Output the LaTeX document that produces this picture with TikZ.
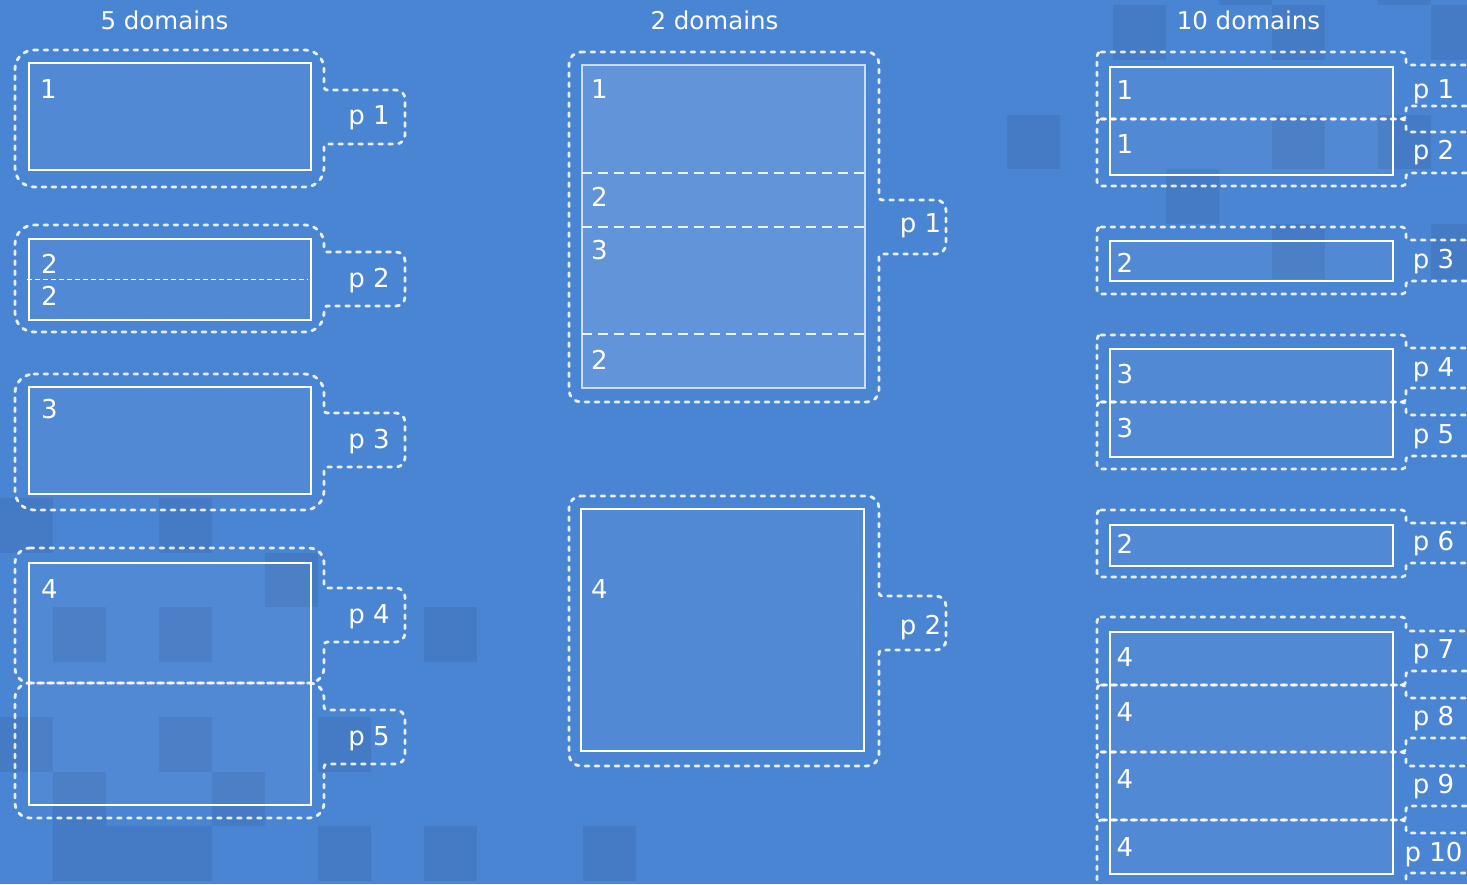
\documentclass[tikz,border=0pt]{standalone}
\usepackage{fontspec}
\setmainfont{DejaVu Sans}
\definecolor{bg}{RGB}{74,133,212}
\newcommand\fs{\fontsize{26}{30}\selectfont}
\newcommand\fst{\fontsize{24.5}{30}\selectfont}
\def\rj{3}
\def\kk{0.448}
% group outline: x1,y1,x2,y2,tabx,taby1,taby2,R,rt
\newcommand\grp[9]{%
 \draw[outl] (#1+#8,#2) -- (#3-#8,#2) .. controls (#3-\kk*#8,#2) and (#3,#2+\kk*#8) .. (#3,#2+#8)
  -- (#3,#6-\rj) .. controls (#3,#6-\kk*\rj) and (#3+\kk*\rj,#6) .. (#3+\rj,#6)
  -- (#5-#9,#6) .. controls (#5-\kk*#9,#6) and (#5,#6+\kk*#9) .. (#5,#6+#9)
  -- (#5,#7-#9) .. controls (#5,#7-\kk*#9) and (#5-\kk*#9,#7) .. (#5-#9,#7)
  -- (#3+\rj,#7) .. controls (#3+\kk*\rj,#7) and (#3,#7+\kk*\rj) .. (#3,#7+\rj)
  -- (#3,#4-#8) .. controls (#3,#4-\kk*#8) and (#3-\kk*#8,#4) .. (#3-#8,#4)
  -- (#1+#8,#4) .. controls (#1+\kk*#8,#4) and (#1,#4-\kk*#8) .. (#1,#4-#8)
  -- (#1,#2+#8) .. controls (#1,#2+\kk*#8) and (#1+\kk*#8,#2) .. (#1+#8,#2) -- cycle;}
\newcommand\inrect[4]{%
 \fill[white,fill opacity=0.04] (#1,#2) rectangle (#3,#4);
 \draw[inbox] (#1,#2) rectangle (#3,#4);}
\tikzset{
 outl/.style={draw=white, draw opacity=0.88, line width=2.8pt, dash pattern=on 3.8pt off 6.2pt, line cap=round},
 inbox/.style={draw=white, line width=2pt},
 lbl/.style={text=white, inner sep=0pt, anchor=base west, font=\fs},
 plbl/.style={text=white, inner sep=0pt, anchor=base, font=\fs},
 ttl/.style={text=white, inner sep=0pt, anchor=base, font=\fst},
 sq/.style={fill=black, fill opacity=0.075},
 thindash/.style={draw=white, line width=0.9pt, dash pattern=on 5pt off 3pt},
 divdash/.style={draw=white, draw opacity=0.9, line width=2pt, dash pattern=on 10pt off 6pt},
}
\begin{document}
\begin{tikzpicture}[x=1pt,y=-1pt]
\fill[bg] (0,0) rectangle (1467,884);
\clip (0,0) rectangle (1467,884);
% background squares
\foreach \i/\j in {19/2,21/0,24/0,27/0,23/-1,26/-1,22/3,24/2,26/2,24/4,27/4,
  0/9,3/9,5/10,1/11,3/11,8/11,0/13,3/13,6/13,1/14,4/14,1/15,2/15,3/15,6/15,8/15,11/15}
  \fill[sq] (53*\i,5+54.75*\j) rectangle ++(53,54.75);

% ---------- 5 domains ----------
\node[ttl] (t1) at (164.5,29) {5 domains};
\inrect{29}{63}{311}{170}
\inrect{29}{239}{311}{320}
\draw[thindash] (27,279) -- (308,279);
\inrect{29}{387}{311}{494}
\inrect{29}{563}{311}{805}
\grp{15}{50}{324}{187}{405}{90}{144}{19}{9}
\grp{15}{225}{324}{332}{405}{252}{306}{19}{9}
\grp{15}{374}{324}{510}{405}{413}{467}{19}{9}
\grp{15}{548}{324}{683}{405}{588}{642}{15}{9}
\grp{15}{683}{324}{818}{405}{710}{764}{15}{9}
\node[lbl] (a1) at (40,98) {1};
\node[lbl] (a2) at (41,273) {2};
\node[lbl] (a3) at (41,305) {2};
\node[lbl] (a4) at (41,418) {3};
\node[lbl] (a5) at (41,598) {4};
\node[plbl] (ap1) at (369,124) {p 1};
\node[plbl] (ap2) at (369,287) {p 2};
\node[plbl] (ap3) at (369,448) {p 3};
\node[plbl] (ap4) at (369,623) {p 4};
\node[plbl] (ap5) at (369,745) {p 5};

% ---------- 2 domains ----------
\node[ttl] (t2) at (714.5,29) {2 domains};
\fill[white,fill opacity=0.13] (582,65) rectangle (865,388);
\draw[draw=white, draw opacity=0.7, line width=2pt] (582,65) rectangle (865,388);
\draw[divdash] (582,173) -- (865,173);
\draw[divdash] (582,227) -- (865,227);
\draw[divdash] (582,334) -- (865,334);
\inrect{581}{509}{864}{751}
\grp{569}{52}{879}{402}{946}{200}{254}{12}{10}
\grp{569}{496}{879}{766}{946}{596}{650}{12}{10}
\node[lbl] (b1) at (591,98) {1};
\node[lbl] (b2) at (591,206) {2};
\node[lbl] (b3) at (591,259) {3};
\node[lbl] (b4) at (591,369) {2};
\node[lbl] (b5) at (591,598) {4};
\node[plbl] (bp1) at (920.5,232) {p 1};
\node[plbl] (bp2) at (920.5,634) {p 2};

% ---------- 10 domains ----------
\node[ttl] (t3) at (1248.5,29) {10 domains};
\inrect{1110}{67}{1393}{175}
\inrect{1110}{241}{1393}{281}
\inrect{1110}{349}{1393}{457}
\inrect{1110}{525}{1393}{566}
\inrect{1110}{632}{1393}{874}
\grp{1097}{52}{1406}{119}{1495}{65}{106}{4}{4}
\grp{1097}{119}{1406}{186}{1495}{132}{173}{4}{4}
\grp{1097}{227}{1406}{294}{1495}{240}{281}{4}{4}
\grp{1097}{335}{1406}{402}{1495}{348}{388}{4}{4}
\grp{1097}{402}{1406}{469}{1495}{415}{456}{4}{4}
\grp{1097}{510}{1406}{577}{1495}{523}{563}{4}{4}
\grp{1097}{617}{1406}{685}{1495}{631}{671}{4}{4}
\grp{1097}{685}{1406}{752}{1495}{698}{738}{4}{4}
\grp{1097}{752}{1406}{820}{1495}{766}{806}{4}{4}
\grp{1097}{820}{1406}{890}{1495}{833}{873}{4}{4}
\node[lbl] (c1) at (1116.5,99) {1};
\node[lbl] (c2) at (1116.5,153) {1};
\node[lbl] (c3) at (1116.5,272) {2};
\node[lbl] (c4) at (1116.5,383) {3};
\node[lbl] (c5) at (1116.5,437) {3};
\node[lbl] (c6) at (1116.5,553) {2};
\node[lbl] (c7) at (1116.5,666) {4};
\node[lbl] (c8) at (1116.5,721) {4};
\node[lbl] (c9) at (1116.5,788) {4};
\node[lbl] (c10) at (1116.5,856) {4};
\node[plbl] (cp1) at (1433.5,98) {p 1};
\node[plbl] (cp2) at (1433.5,159) {p 2};
\node[plbl] (cp3) at (1433.5,268) {p 3};
\node[plbl] (cp4) at (1433.5,376) {p 4};
\node[plbl] (cp5) at (1433.5,443) {p 5};
\node[plbl] (cp6) at (1433.5,550) {p 6};
\node[plbl] (cp7) at (1433.5,658) {p 7};
\node[plbl] (cp8) at (1433.5,725) {p 8};
\node[plbl] (cp9) at (1433.5,793) {p 9};
\node[plbl] (cp10) at (1433.5,861) {p 10};
\end{tikzpicture}
\end{document}
